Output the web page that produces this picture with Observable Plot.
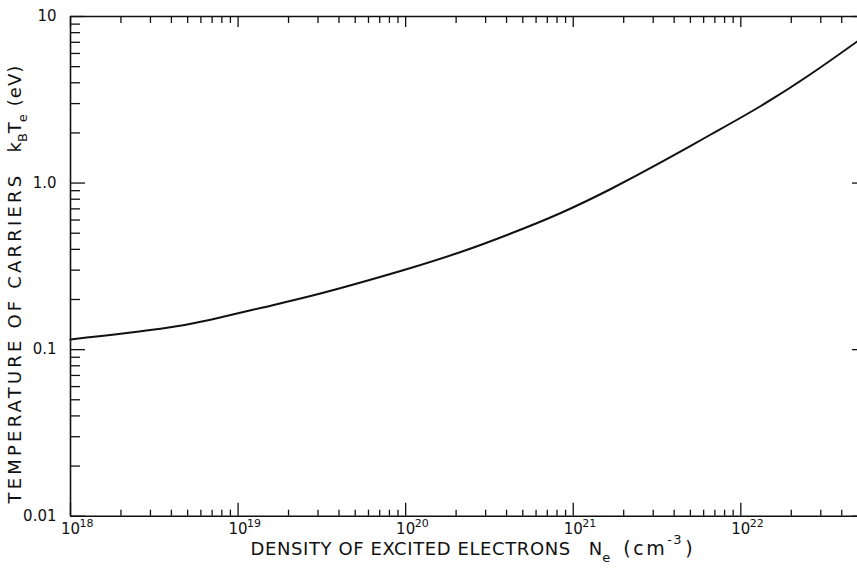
<!DOCTYPE html>
<html><head><meta charset="utf-8">
<script src="https://cdn.jsdelivr.net/npm/d3@7"></script>
<script src="https://cdn.jsdelivr.net/npm/@observablehq/plot@0.6"></script>
<style>
html,body{margin:0;padding:0;background:#fff;overflow:hidden;}
#chart{width:857px;height:569px;overflow:hidden;}
</style></head><body><div id="chart"></div>
<script>
// Data
const density = [1e18, 3.45e18, 6.85e18, 1.362e19, 2.71e19, 5.39e19, 1.071e20, 2.13e20, 4.24e20, 8.42e20, 1.675e21, 3.33e21, 6.62e21, 1.316e22, 2.618e22, 4.995e22];
const temperature = [0.1151, 0.1334, 0.151, 0.1778, 0.2099, 0.253, 0.3091, 0.3857, 0.498, 0.6612, 0.9213, 1.329, 1.957, 2.902, 4.516, 7.128];
const xMajorTicks = [1e18, 1e19, 1e20, 1e21, 1e22];
const xExponents = ["18", "19", "20", "21", "22"];
const yMajorTicks = [0.01, 0.1, 1, 10];
const yTickLabels = ["0.01", "0.1", "1.0", "10"];
const minorMultipliers = [2, 3, 4, 5, 6, 7, 8, 9];
const xDomain = [1e18, 5.7e22];
const yDomain = [0.01, 10];
const xTitle = "DENSITY OF EXCITED ELECTRONS";
const yTitle = "TEMPERATURE OF CARRIERS";

const W = 857, H = 569, ML = 70, MR = 0, MT = 16, MB = 53.3;
const FW = W - ML - MR, FH = H - MT - MB;
const xMinor = xMajorTicks.flatMap(d => minorMultipliers.map(k => k * d)).filter(v => v <= xDomain[1]);
const yMinor = yMajorTicks.slice(0, -1).flatMap(d => minorMultipliers.map(k => k * d));
const data = density.map((x, i) => ({x, y: temperature[i]}));
const ts = {stroke: "#111", strokeWidth: 1.3};

const plot = Plot.plot({
  width: W, height: H,
  marginLeft: ML, marginRight: MR, marginTop: MT, marginBottom: MB,
  x: {type: "log", domain: xDomain, range: [ML, W + 10], axis: null},
  y: {type: "log", domain: yDomain, axis: null},
  style: {fontFamily: "'DejaVu Sans', sans-serif", fontSize: "15px", color: "#111", background: "#fff"},
  marks: [
    Plot.tickY(yMajorTicks, {y: d => d, insetRight: FW - 15, ...ts}),
    Plot.tickY(yMinor, {y: d => d, insetRight: FW - 10, ...ts}),
    Plot.tickY(yMajorTicks, {y: d => d, insetLeft: FW - 5, ...ts}),
    Plot.tickX(xMajorTicks, {x: d => d, insetTop: FH - 13, ...ts}),
    Plot.tickX(xMinor, {x: d => d, insetTop: FH - 6, ...ts}),
    Plot.tickX(xMajorTicks, {x: d => d, insetBottom: FH - 11, ...ts}),
    Plot.tickX(xMinor, {x: d => d, insetBottom: FH - 7, ...ts}),
    Plot.ruleX([xDomain[0]], {stroke: "#111", strokeWidth: 1.6}),
    Plot.ruleY(yDomain, {stroke: "#111", strokeWidth: 1.6}),
    Plot.line(data, {x: "x", y: "y", curve: "natural", stroke: "#111", strokeWidth: 2}),
    Plot.text(yMajorTicks, {y: d => d, text: (d, i) => yTickLabels[i], frameAnchor: "left", textAnchor: "end", dx: -14, fontSize: 15, fill: "#111"}),
    Plot.text(xMajorTicks, {x: d => d, text: () => "10", frameAnchor: "bottom", dy: 17.5, fontSize: 15, fill: "#111"}),
    Plot.text(xMajorTicks, {x: d => d, text: (d, i) => xExponents[i], frameAnchor: "bottom", textAnchor: "start", dx: 9, dy: 10.8, fontSize: 11, fill: "#111"}),
    Plot.text([xTitle], {text: d => d, frameAnchor: "bottom-left", textAnchor: "start", dx: 180, dy: 38.5, fontSize: 18, fill: "#111"}),
    Plot.text([yTitle], {text: d => d, frameAnchor: "bottom-left", textAnchor: "start", rotate: -90, dx: -50, dy: -12.7, fontSize: 18, fill: "#111"})
  ]
});

function enrich(svg, plain, parts) {
  d3.select(svg).selectAll("text").filter(function () { return this.textContent === plain; }).each(function () {
    const t = d3.select(this);
    t.text(null);
    let shift = 0;
    for (const p of parts) {
      const s = t.append("tspan").text(p.t);
      const target = p.shift || 0;
      if (target !== shift) s.attr("dy", target - shift);
      shift = target;
      if (p.dx) s.attr("dx", p.dx);
      if (p.size) s.attr("font-size", p.size);
      if (p.ls) s.attr("letter-spacing", p.ls);
    }
  });
}
const svgEl = plot.tagName.toLowerCase() === "svg" ? plot : plot.querySelector("svg");
enrich(svgEl, xTitle, [
  {t: xTitle, ls: 0.6},
  {t: "N", dx: 18},
  {t: "e", shift: 7, size: 13},
  {t: "(cm", dx: 13, ls: 2.5, size: 19},
  {t: "-3", shift: -11, size: 13, ls: 1.5},
  {t: ")", dx: 2, size: 19}
]);
enrich(svgEl, yTitle, [
  {t: yTitle, ls: 3.2},
  {t: "k", dx: 20},
  {t: "B", shift: 6, size: 13},
  {t: "T"},
  {t: "e", shift: 6, size: 13},
  {t: "(eV)", dx: 8, ls: 1}
]);
document.getElementById("chart").appendChild(plot);
</script></body></html>
